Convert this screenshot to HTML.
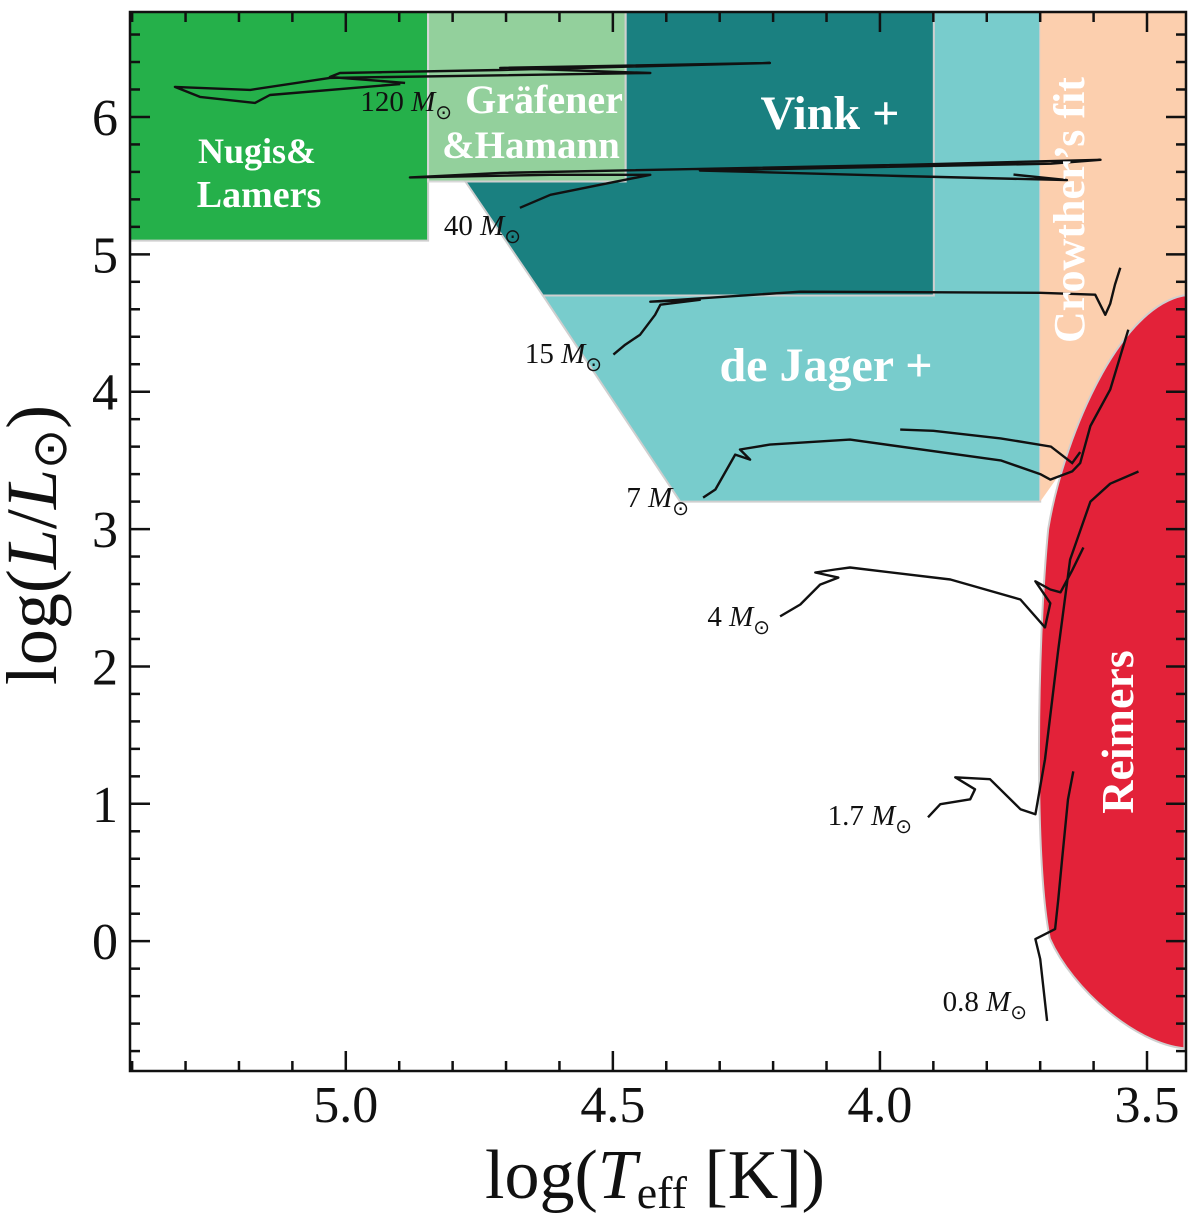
<!DOCTYPE html>
<html><head><meta charset="utf-8"><style>
html,body{margin:0;padding:0;background:#fff;}
svg{display:block;font-family:"Liberation Serif",serif;}
</style></head><body>
<svg id="chart" width="1200" height="1213" viewBox="0 0 1200 1213" xmlns="http://www.w3.org/2000/svg">
<g id="regions"></g>
<g id="tracks"></g>
<g id="labels"></g>
<g id="axes"></g>
</svg>
<script>
// ---- data ----
const xTicks = [5.0, 4.5, 4.0, 3.5];
const xTickLabels = ["5.0", "4.5", "4.0", "3.5"];
const yTicks = [0, 1, 2, 3, 4, 5, 6];
const yTickLabels = ["0", "1", "2", "3", "4", "5", "6"];

const trackNames = ["0.8", "1.7", "4", "7", "15", "40", "120"];
const t08T = [3.687,3.700,3.709,3.672,3.666,3.659,3.648,3.638];
const t08L = [-0.581,-0.13,0.015,0.088,0.306,0.597,1.033,1.236];
const t17T = [3.910,3.887,3.831,3.822,3.859,3.794,3.737,3.709,3.691,3.666,3.644,3.606,3.569,3.516];
const t17L = [0.902,0.997,1.033,1.106,1.193,1.179,0.961,0.924,1.324,2.124,2.778,3.200,3.330,3.419];
const t4T = [4.187,4.149,4.112,4.078,4.121,4.084,4.056,3.868,3.737,3.691,3.681,3.709,3.681,3.662,3.640,3.619];
const t4L = [2.364,2.451,2.596,2.647,2.684,2.706,2.720,2.633,2.487,2.284,2.460,2.620,2.560,2.540,2.700,2.866];
const t7T = [4.331,4.308,4.271,4.243,4.262,4.206,4.056,3.774,3.700,3.681,3.640,3.625,3.606,3.569,3.535];
const t7L = [3.229,3.288,3.542,3.506,3.579,3.615,3.651,3.500,3.400,3.360,3.420,3.480,3.750,4.015,4.451];
const t7bT = [3.962,3.900,3.774,3.680,3.640,3.625];
const t7bL = [3.724,3.715,3.660,3.600,3.480,3.560];
const t15T = [4.499,4.477,4.449,4.421,4.411,4.337,4.430,4.149,3.700,3.597,3.578,3.569,3.560,3.550];
const t15L = [4.270,4.342,4.415,4.560,4.633,4.669,4.655,4.728,4.720,4.706,4.560,4.640,4.780,4.902];
const t40T = [4.674,4.617,4.524,4.430,4.617,4.880,4.711,3.962,3.587,3.680,4.337,3.962,3.650,3.750];
const t40L = [5.339,5.433,5.506,5.579,5.579,5.560,5.593,5.651,5.688,5.660,5.610,5.570,5.540,5.580];
const t120T = [4.889,5.030,5.011,4.711,4.206,4.711,4.430,5.030,5.179,5.320,5.273,5.170,5.142,4.898];
const t120L = [6.248,6.291,6.320,6.342,6.393,6.357,6.320,6.284,6.197,6.219,6.146,6.102,6.160,6.240];

// ---- scales ----
const X0=130, X1=1186, Y0=12, Y1=1071;
const xMin=5.404, xMax=3.427, yMax=6.764, yMin=-0.945;
function sx(v){return X0+(v-xMin)/(xMax-xMin)*(X1-X0);}
function sy(v){return Y0+(yMax-v)/(yMax-yMin)*(Y1-Y0);}
const NS="http://www.w3.org/2000/svg";
function mk(tag,attrs,parent){const e=document.createElementNS(NS,tag);for(const k in attrs)e.setAttribute(k,attrs[k]);parent.appendChild(e);return e;}
function poly(pts){return pts.map(p=>sx(p[0]).toFixed(1)+","+sy(p[1]).toFixed(1)).join(" ");}

// ---- regions ----
const R=document.getElementById('regions');
let e;
e=mk('polygon',{points:poly([[xMin,yMax],[4.846,yMax],[4.846,5.10],[xMin,5.10]]),fill:'#25b04a',stroke:'#cfcfcf','stroke-width':2},R);

e=mk('polygon',{points:poly([[4.846,yMax],[4.476,yMax],[4.476,5.53],[4.846,5.53]]),fill:'#93d09c',stroke:'#d8d8d8','stroke-width':2},R);

e=mk('polygon',{points:poly([[4.776,5.53],[4.476,5.53],[4.476,yMax],[3.899,yMax],[3.899,4.70],[4.631,4.70]]),fill:'#1a8080',stroke:'#cfcfcf','stroke-width':2},R);

e=mk('polygon',{points:poly([[3.899,yMax],[3.700,yMax],[3.700,3.20],[4.374,3.20],[4.631,4.70],[3.899,4.70]]),fill:'#78cccc',stroke:'#cfcfcf','stroke-width':2},R);

e=mk('polygon',{points:poly([[3.700,yMax],[xMax,yMax],[xMax,4.70],[3.700,3.20]]),fill:'#fccfae'},R);

e=mk('path',{d:`M${sx(3.432)},${sy(4.70)} C${sx(3.560)},${sy(4.60)} ${sx(3.660)},${sy(3.60)} ${sx(3.685)},${sy(3.00)} C${sx(3.705)},${sy(2.2)} ${sx(3.712)},${sy(0.6)} ${sx(3.682)},${sy(0.02)} C${sx(3.640)},${sy(-0.35)} ${sx(3.520)},${sy(-0.75)} ${sx(3.430)},${sy(-0.78)} L${sx(xMax)},${sy(4.70)} Z`,fill:'#e32239',stroke:'#cfcfcf','stroke-width':2},R);


// ---- tracks ----
const T=document.getElementById('tracks');
const trackT=[t08T,t17T,t4T,t7T,t15T,t40T,t120T];
const trackL=[t08L,t17L,t4L,t7L,t15L,t40L,t120L];
for(let i=0;i<trackT.length;i++){
  const pts=trackT[i].map((t,j)=>[t,trackL[i][j]]);
  const p=mk('polyline',{points:poly(pts),fill:'none',stroke:'#111','stroke-width':2.4,'stroke-linejoin':'round'},T);
  
  
}
{const pts=t7bT.map((t,j)=>[t,t7bL[j]]);
 const p=mk('polyline',{points:poly(pts),fill:'none',stroke:'#111','stroke-width':2.4},T);
 
 }

// ---- labels ----
const L=document.getElementById('labels');
function txt(x,y,s,attrs,name){const t=mk('text',Object.assign({x:x,y:y},attrs),L);t.textContent=s;return t;}
const W={fill:'#fff','font-weight':'bold','font-size':36,'text-anchor':'middle'};
txt(257,163,'Nugis&',W,'nugis-label');
txt(259,207,'Lamers',Object.assign({},W,{'font-size':38}),'lamers-label');
txt(544,113,'Gräfener',Object.assign({},W,{'font-size':40}),'grafener-label');
txt(531,158,'&Hamann',Object.assign({},W,{'font-size':39}),'hamann-label');
txt(830,129,'Vink +',Object.assign({},W,{'font-size':48}),'vink-label');
txt(826,381,'de Jager +',Object.assign({},W,{'font-size':48}),'de-jager-label');
txt(0,0,'Crowther\u2019s fit',Object.assign({},W,{'font-size':44,transform:'translate(1084,210) rotate(-90)'}),'crowther-label');
txt(0,0,'Reimers',Object.assign({},W,{'font-size':46,transform:'translate(1133,732) rotate(-90)'}),'reimers-label');
const M={fill:'#111','font-size':29,'text-anchor':'end'};
function mlabel(x,y,num,name){const t=txt(x,y,'',M,name);const a=document.createElementNS(NS,'tspan');a.textContent=num+' ';t.appendChild(a);const b=document.createElementNS(NS,'tspan');b.setAttribute('font-style','italic');b.textContent='M';t.appendChild(b);const c=document.createElementNS(NS,'tspan');c.setAttribute('font-size',20);c.setAttribute('dy',8);c.textContent='\u2299';t.appendChild(c);}
mlabel(452,111,'120','label-120-msun');
mlabel(521,235,'40','label-40-msun');
mlabel(602,363,'15','label-15-msun');
mlabel(689,507,'7','label-7-msun');
mlabel(770,626,'4','label-4-msun');
mlabel(912,825,'1.7','label-1-7-msun');
mlabel(1027,1011,'0.8','label-0-8-msun');

// ---- axes ----
const A=document.getElementById('axes');
e=mk('rect',{x:X0,y:Y0,width:X1-X0,height:Y1-Y0,fill:'none',stroke:'#111','stroke-width':2.5},A);

for(let v=5.4;v>=3.42;v-=0.1){const x=sx(v);const major=xTicks.some(t=>Math.abs(t-v)<1e-6);const len=major?20:10;
 mk('line',{x1:x,y1:Y1,x2:x,y2:Y1-len,stroke:'#111','stroke-width':2.5},A);
 mk('line',{x1:x,y1:Y0,x2:x,y2:Y0+len,stroke:'#111','stroke-width':2.5},A);}
for(let v=-0.8;v<=6.7;v+=0.2){const y=sy(v);const major=Math.abs(v-Math.round(v))<1e-6;const len=major?20:10;
 mk('line',{x1:X0,y1:y,x2:X0+len,y2:y,stroke:'#111','stroke-width':2.5},A);
 mk('line',{x1:X1,y1:y,x2:X1-len,y2:y,stroke:'#111','stroke-width':2.5},A);}
xTicks.forEach((v,i)=>{const t=mk('text',{x:sx(v),y:1122,'font-size':52,'text-anchor':'middle',fill:'#111'},A);t.textContent=xTickLabels[i];
 });
yTicks.forEach((v,i)=>{const t=mk('text',{x:118,y:sy(v)+18,'font-size':52,'text-anchor':'end',fill:'#111'},A);t.textContent=yTickLabels[i];
 });
{const t=mk('text',{x:655,y:1198,'font-size':70,'text-anchor':'middle',fill:'#111'},A);
 
 t.innerHTML='log(<tspan font-style="italic">T</tspan><tspan font-size="46" dy="10">eff</tspan><tspan dy="-10"> [K])</tspan>';}
{const t=mk('text',{x:0,y:0,'font-size':72,'text-anchor':'middle',fill:'#111',transform:'translate(56,545) rotate(-90)'},A);
 
 t.innerHTML='log(<tspan font-style="italic">L</tspan>/<tspan font-style="italic">L</tspan><tspan font-size="48" dy="10">\u2299</tspan><tspan dy="-10">)</tspan>';}
</script>
</body></html>
